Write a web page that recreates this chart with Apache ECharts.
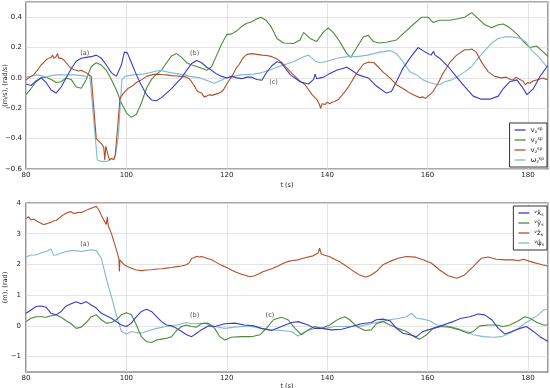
<!DOCTYPE html>
<html><head><meta charset="utf-8">
<script src="https://cdn.jsdelivr.net/npm/echarts@6/dist/echarts.min.js"></script>
<style>html,body{margin:0;padding:0;background:#fff}#c{width:550px;height:388px}</style>
</head><body><div id="c"></div>
<script>
// ---- top panel: set-point velocities (t in s, value in m/s or rad/s)
const vx_sp = [[80,-0.04],[81,-0.05],[82,-0.02],[83,0],[84,-0.03],[85,-0.08],[86,-0.1],[87,-0.06],[88,0],[89,0.06],[90,0.11],[91,0.13],[92,0.135],[93,0.14],[94,0.15],[95,0.13],[96,0.085],[97,0.035],[98,0.01],[99,0.085],[99.6,0.17],[100.2,0.165],[101,0.1],[102,0.02],[103,-0.05],[104,-0.11],[105,-0.145],[106,-0.15],[107,-0.13],[108,-0.1],[109,-0.07],[110,-0.035],[111,0],[112,0.05],[113,0.095],[114,0.115],[115,0.1],[116,0.07],[117,0.05],[118,0.025],[119,0.01],[120,0],[121,0.01],[122,0],[123,-0.005],[124,0.005],[125,0.005],[126,-0.01],[127,-0.015],[128,0.04],[129,0.08],[130,0.107],[130.8,0.1],[132.7,0.02],[134.6,-0.025],[136.3,-0.04],[137.3,-0.01],[137.6,0.025],[137.9,-0.005],[139.3,0.005],[140.3,0.025],[141.9,0.05],[143.9,0.07],[144.9,0.05],[146.2,0.02],[148.2,0],[149.5,-0.045],[150.5,-0.07],[151.8,-0.1],[152.8,-0.09],[153.8,-0.025],[155.1,0.063],[156.5,0.13],[158.1,0.2],[159.4,0.173],[160.7,0.15],[161.2,0.175],[161.5,0.15],[162.4,0.13],[164.1,0.075],[165.8,0.005],[167.4,-0.057],[169.1,-0.12],[170.7,-0.14],[172.4,-0.14],[174.1,-0.12],[175.1,-0.07],[176.4,-0.025],[177.8,-0.013],[178.8,-0.057],[179.8,-0.11],[181.1,-0.07],[182.4,0.01],[183.8,0.075],[184,0.08]];
const vy_sp = [[80,-0.11],[81,-0.07],[82,-0.025],[83,0],[84,0.005],[85,-0.01],[86,-0.03],[87,-0.025],[88,0],[89,-0.01],[90,-0.06],[91,-0.068],[92,-0.01],[93,0.075],[94,0.1],[95,0.085],[96,0.05],[97,-0.01],[98,-0.08],[99,-0.165],[100,-0.23],[101,-0.26],[102,-0.24],[103,-0.165],[104,-0.068],[105,-0.01],[106,0.025],[107,0.05],[108,0.1],[109,0.145],[110,0.16],[111,0.135],[112,0.1],[113,0.085],[114,0.075],[115,0.063],[116,0.05],[117,0.075],[118,0.15],[119,0.225],[120,0.285],[121,0.29],[122,0.31],[123,0.34],[124,0.36],[125,0.37],[126,0.39],[126.8,0.4],[127.8,0.38],[128.8,0.34],[130,0.26],[131.3,0.23],[133.3,0.227],[134.6,0.25],[135.3,0.3],[136.6,0.26],[137.9,0.24],[139.2,0.3],[140.2,0.33],[141.2,0.3],[142.5,0.24],[143.9,0.16],[144.7,0.135],[145.9,0.2],[147.2,0.27],[148.2,0.28],[149.2,0.24],[150.3,0.23],[151.8,0.235],[153.8,0.25],[155.1,0.29],[157.1,0.35],[158.8,0.4],[160.1,0.4],[161.1,0.365],[162.4,0.38],[164.4,0.38],[166.1,0.39],[167.4,0.4],[168.8,0.43],[170.1,0.39],[171.4,0.35],[172.8,0.33],[174.1,0.35],[175.1,0.355],[176.4,0.33],[177.8,0.29],[179.1,0.24],[180.4,0.2],[181.7,0.21],[183.1,0.17],[184,0.14]];
const vz_sp = [[80,-0.015],[80.5,0],[81,0.01],[81.5,0.02],[82,0.04],[82.5,0.06],[83,0.085],[83.5,0.1],[84,0.118],[84.5,0.13],[85,0.135],[85.3,0.15],[85.5,0.13],[86,0.14],[86.3,0.16],[86.5,0.13],[87,0.13],[87.5,0.12],[88,0.1],[88.5,0.08],[89,0.063],[89.5,0.055],[90,0.05],[90.5,0.045],[91,0.05],[91.5,0.04],[92,0.035],[92.5,0.02],[93,0.01],[93.3,0.015],[94,-0.4],[94.6,-0.42],[95.2,-0.44],[95.5,-0.46],[95.7,-0.54],[95.9,-0.45],[96.3,-0.5],[96.6,-0.54],[97,-0.53],[97.5,-0.54],[97.8,-0.5],[98.4,-0.27],[98.7,-0.14],[99,-0.12],[99.7,-0.09],[100.3,-0.07],[101,-0.057],[102,-0.03],[103,-0.013],[104,0.01],[105,0.02],[106,0.025],[107,0.022],[108,0.02],[109,0.015],[110,0.013],[111,0.01],[112,0.005],[112.5,-0.005],[113,-0.025],[113.5,-0.05],[114,-0.08],[114.5,-0.095],[115,-0.1],[115.5,-0.125],[116,-0.12],[116.5,-0.11],[117,-0.115],[117.5,-0.11],[118,-0.105],[118.5,-0.1],[119,-0.09],[119.5,-0.07],[120,-0.04],[120.5,-0.015],[121,0.01],[121.5,0.04],[122,0.07],[122.5,0.09],[123,0.12],[123.5,0.14],[124,0.155],[125,0.16],[126,0.155],[127,0.15],[128,0.148],[129,0.14],[130,0.125],[131,0.1],[131.7,0.075],[133,0.03],[134.3,-0.013],[135.6,-0.045],[137,-0.11],[138,-0.145],[138.4,-0.17],[138.7,-0.2],[139,-0.17],[139.6,-0.175],[140,-0.16],[140.5,-0.17],[141,-0.16],[141.5,-0.155],[142.3,-0.14],[143.3,-0.1],[144.3,-0.057],[145.3,0],[146.3,0.05],[147.2,0.09],[148.3,0.105],[149.3,0.1],[149.8,0.085],[151.1,0.04],[152.5,0],[153.8,-0.045],[155.1,-0.07],[156.5,-0.1],[157.8,-0.12],[158.5,-0.13],[159.1,-0.125],[159.6,-0.135],[160.1,-0.12],[161.1,-0.09],[162.1,-0.035],[163.1,0.03],[164.4,0.1],[165.8,0.15],[167.4,0.185],[168.3,0.185],[168.8,0.19],[169.7,0.17],[170.7,0.107],[172.1,0.04],[173.4,0.01],[174.7,0],[175.7,0.005],[176.5,-0.01],[177.1,-0.013],[177.6,0.005],[178.4,-0.01],[179,-0.02],[179.5,-0.045],[180,-0.03],[180.4,-0.035],[181,-0.02],[181.8,-0.013],[182.5,-0.005],[183.1,0],[183.6,-0.01],[184,-0.005]];
const wz_sp = [[80,0.005],[81,0.01],[82,0.02],[83,0.015],[84,0.005],[85,0.015],[86,0.02],[87,0.02],[88,0.02],[89,0.02],[90,0.02],[91,0.015],[92,0.01],[92.7,0.02],[94.2,-0.54],[95,-0.55],[96,-0.55],[96.8,-0.54],[97.8,-0.52],[98.4,-0.38],[99.1,-0.013],[99.7,0.01],[101.4,0.02],[103.4,0.025],[105.4,0.04],[106.7,0.05],[108.7,0.035],[110.7,0.025],[112.7,0.01],[114.7,0],[116.7,-0.025],[117.5,-0.035],[118.5,-0.02],[120,0],[122.7,0.02],[125.4,0.025],[127,0.035],[128.5,0.05],[130,0.07],[131.3,0.085],[133.3,0.107],[135.3,0.14],[136.3,0.15],[137.6,0.11],[138.6,0.1],[140,0.11],[142,0.13],[144,0.14],[146,0.14],[148,0.15],[149.3,0.16],[150.5,0.17],[152.5,0.18],[153.8,0.16],[155.1,0.107],[156.5,0.04],[157.8,0.02],[159.1,-0.013],[160.4,-0.03],[161.4,-0.04],[162.4,-0.045],[163.4,-0.025],[164.8,-0.013],[166.1,0.01],[167.4,0.04],[168.8,0.075],[170.1,0.13],[171.4,0.18],[172.8,0.23],[174.1,0.26],[175.5,0.27],[176.8,0.27],[178.1,0.265],[179.5,0.24],[180.8,0.18],[182.1,0.14],[183.1,0.1],[184,0.065]];

// ---- bottom panel: estimated pose (t in s, value in m or rad)
const x_s = [[80,0.41],[81,0.52],[82,0.63],[83,0.65],[84,0.61],[85,0.41],[86,0.36],[87,0.47],[88,0.65],[89,0.72],[90,0.79],[91,0.72],[92,0.79],[93,0.68],[94,0.58],[95,0.41],[96,0.33],[97,0.25],[98,0.14],[99,0.03],[100,-0.02],[101,0.09],[102,0.3],[103,0.47],[104,0.54],[105,0.47],[106,0.3],[107,0.14],[108,0.03],[109,0],[110,-0.08],[111,-0.18],[112,-0.29],[113,-0.35],[114,-0.24],[114.9,-0.13],[116.3,0],[117.6,-0.02],[119.6,0.07],[121.6,0.09],[123.5,0.03],[125.5,0],[126.9,-0.08],[128.9,-0.15],[130.9,-0.02],[132.9,0.11],[134.2,0.14],[136.2,0.03],[137.5,-0.08],[138.9,-0.08],[140.9,-0.13],[142.9,-0.11],[144.9,-0.02],[146.8,0.07],[148.8,0.11],[149.8,0.2],[151.1,0.22],[152.5,0.17],[153.8,-0.08],[155.1,-0.24],[156.5,-0.29],[157.8,-0.35],[159.1,-0.18],[161.1,-0.08],[163.1,0.03],[165.1,0.14],[166.7,0.25],[168.4,0.3],[170.1,0.39],[171.4,0.36],[172.8,0.2],[174.1,-0.08],[175.4,-0.26],[176.8,-0.18],[178.4,-0.08],[179.7,-0.02],[181.1,-0.18],[182.4,-0.35],[184,-0.51]];
const y_s = [[80,0.14],[81,0.25],[82,0.3],[83,0.3],[84,0.28],[85,0.33],[86,0.36],[87,0.28],[88,0.17],[89,0.07],[90,-0.08],[91,-0.04],[92,0.11],[93,0.3],[94,0.36],[95,0.2],[96,0.09],[97,0.11],[98,0.2],[99,0.36],[100,0.43],[101,0.36],[102,0.03],[103,-0.35],[104,-0.51],[105,-0.54],[106,-0.46],[107,-0.43],[108,-0.4],[109,-0.35],[110,-0.15],[111,-0.02],[112,0.03],[113,-0.02],[114,-0.04],[114.9,0.07],[116.3,0.09],[117.6,-0.08],[118.6,-0.35],[119.6,-0.46],[120.9,-0.37],[122.9,-0.35],[124.9,-0.35],[126.6,-0.29],[127.9,-0.08],[129.3,0.2],[130.9,0.28],[132.2,0.2],[133.6,-0.08],[134.9,-0.29],[136.2,-0.13],[137.5,-0.02],[138.9,-0.08],[140.5,0.03],[142.2,0.22],[143.5,0.3],[144.5,0.2],[145.9,-0.02],[147.5,-0.15],[148.8,-0.13],[149.8,0.07],[151.1,0.14],[152.5,0.03],[154.1,-0.08],[155.8,-0.18],[157.5,-0.37],[158.5,-0.43],[159.8,-0.29],[161.1,-0.08],[162.8,-0.02],[164.4,-0.04],[166.4,-0.13],[168.1,-0.24],[169.1,-0.18],[170.4,0],[172.1,0.03],[173.7,0.03],[175.1,-0.02],[176.4,0.03],[178.1,0.17],[179.4,0.3],[180.4,0.25],[181.8,0.11],[183.1,0.03],[184,0.03]];
const z_s = [[80,3.5],[80.5,3.55],[81,3.45],[81.5,3.48],[82,3.43],[82.5,3.38],[83,3.34],[83.5,3.3],[84,3.32],[84.5,3.35],[85,3.37],[85.5,3.42],[86,3.43],[86.5,3.5],[87,3.56],[87.5,3.62],[88,3.67],[88.5,3.7],[89,3.72],[89.5,3.66],[90,3.67],[90.5,3.7],[91,3.69],[91.5,3.72],[92,3.76],[92.5,3.8],[93,3.83],[93.5,3.86],[94,3.89],[94.5,3.78],[95,3.6],[95.5,3.45],[96,3.3],[96.2,3.55],[96.4,3.25],[97,3.02],[97.5,2.75],[98,2.48],[98.5,2.2],[98.6,1.77],[98.7,2.15],[99,2.1],[99.5,2.0],[100,1.95],[101,1.88],[102,1.82],[103,1.8],[104,1.82],[105,1.83],[106,1.85],[107,1.86],[108,1.88],[109,1.9],[110,1.93],[111,1.95],[112,1.99],[112.5,2.05],[113,2.2],[113.5,2.22],[114,2.27],[114.5,2.24],[115,2.26],[116,2.2],[117,2.15],[118,2.06],[119,1.97],[120,1.9],[121,1.81],[122,1.74],[123,1.68],[124,1.63],[124.6,1.6],[125.5,1.63],[126.3,1.69],[127.2,1.76],[128.2,1.82],[129.2,1.88],[130.2,1.95],[131.2,2.03],[132.2,2.1],[133.2,2.13],[134.2,2.15],[135.2,2.2],[136.2,2.24],[137.2,2.28],[138.2,2.37],[138.5,2.53],[138.8,2.35],[139.5,2.3],[140.4,2.26],[141.4,2.18],[142.4,2.1],[143.4,1.99],[144.4,1.88],[145.4,1.76],[146.4,1.66],[147.7,1.59],[148.5,1.63],[149.8,1.77],[151.1,1.99],[152.5,2.1],[154.1,2.2],[155.8,2.26],[157.5,2.24],[159.1,2.15],[160.8,2.04],[162.4,1.82],[164.1,1.63],[165.8,1.55],[167.4,1.66],[169.1,1.93],[170.7,2.2],[172.1,2.24],[173.7,2.17],[175.4,2.15],[177.1,2.15],[178.2,2.12],[179.1,2.17],[180.4,2.1],[181.2,2.06],[182.1,2.02],[183,1.98],[184,1.95]];
const psi_s = [[80,2.24],[81,2.31],[82,2.31],[83,2.37],[84,2.42],[85,2.5],[85.5,2.3],[86,2.31],[87,2.37],[88,2.42],[89,2.45],[90,2.45],[91,2.42],[92,2.45],[93,2.48],[94,2.45],[95,2.2],[96,1.55],[97,0.96],[98,0.36],[99,-0.18],[100,-0.26],[101,-0.18],[102,-0.22],[103,-0.24],[104,-0.18],[105,-0.13],[106,-0.08],[107,-0.05],[108,-0.02],[109,0],[110,0.03],[111,0.07],[112,0.11],[113,0.07],[114,0.07],[115.6,0.09],[117.6,-0.02],[119.6,-0.08],[121.6,-0.04],[124.3,0],[126.9,-0.08],[128.9,-0.13],[130.9,-0.15],[132.9,-0.18],[134.2,-0.33],[135.6,-0.18],[137.5,-0.08],[139.5,-0.08],[141.5,-0.02],[144.1,-0.02],[146.8,0],[148.8,0.07],[150.5,0.14],[152.5,0.2],[154.5,0.25],[155.8,0.3],[156.8,0.41],[157.8,0.25],[159.1,0.22],[160.4,0.17],[161.8,0.03],[163.8,0],[165.8,-0.08],[167.8,-0.18],[169.1,-0.29],[171.1,-0.35],[173.1,-0.37],[174.7,-0.35],[176.4,-0.24],[178.1,-0.08],[179.4,0.09],[180.8,0.22],[182.1,0.36],[183.1,0.52],[184,0.54]];

// annotations [t, value, text]
const notesTop = [[91.7,0.165,'(a)'],[113.6,0.165,'(b)'],[129.3,-0.03,'(c)']];
const notesBottom = [[91.7,2.65,'(a)'],[113.6,0.35,'(b)'],[128.6,0.35,'(c)']];

const xTicks = [80,100,120,140,160,180];
const topTicks = [-0.6,-0.4,-0.2,0.0,0.2,0.4];
const bottomTicks = [-1,0,1,2,3,4];

const C = {b:'#3b3bc9', g:'#4d8a3a', r:'#b0502a', c:'#84b9cf'};
const FONT = 'DejaVu Sans';
const minus = s => s.replace('-', '\u2212');

const chart = echarts.init(document.getElementById('c'), null, {renderer:'canvas'});

function xAxis(gi, gap){
  return {type:'value', gridIndex:gi, min:80, max:184, interval:20,
    name:'t (s)', nameLocation:'middle', nameGap:gap, nameMoveOverlap:false,
    nameTextStyle:{fontFamily:FONT, fontSize:6.5, color:'#222'},
    axisLine:{show:false}, axisTick:{show:false},
    axisLabel:{fontFamily:FONT, fontSize:7, color:'#222', margin:3,
      formatter:v => xTicks.includes(v) ? String(v) : ''},
    splitLine:{show:true, lineStyle:{color:'#dcdcdc', width:0.8}}};
}

const legendRich = {
  m:{fontFamily:FONT, fontSize:7, color:'#222', lineHeight:10},
  s:{fontFamily:FONT, fontSize:4.5, color:'#222', lineHeight:10, verticalAlign:'bottom', padding:[0,0,1,0]},
  p:{fontFamily:FONT, fontSize:4.5, color:'#222', lineHeight:10, verticalAlign:'top', padding:[1,0,0,0]}
};
const legendLabels = {
  'vx':'{m|v}{s|x}{p|sp}', 'vy':'{m|v}{s|y}{p|sp}', 'vz':'{m|v}{s|z}{p|sp}', 'wz':'{m|\u03c9}{s|z}{p|sp}',
  'xs':'{p|v}{m|x\u0302}{s|s}', 'ys':'{p|v}{m|y\u0302}{s|s}', 'zs':'{p|v}{m|z\u0302}{s|s}', 'ps':'{p|v}{m|\u03c8\u0302}{s|s}'
};

function line(name, data, color, gi){
  return {name, type:'line', xAxisIndex:gi, yAxisIndex:gi, data, showSymbol:false, symbol:'none',
    lineStyle:{color, width:1.1}, itemStyle:{color}, animation:false, silent:true};
}
function notes(data, gi){
  return {type:'scatter', xAxisIndex:gi, yAxisIndex:gi, symbolSize:0, silent:true, animation:false,
    data:data.map(d => ({value:[d[0], d[1]], label:{formatter:d[2]}})),
    label:{show:true, position:'inside', fontFamily:FONT, fontSize:6.5, color:'#222'}};
}
function legend(names, top){
  return {data:names, orient:'vertical', right:3, top, icon:'rect', itemWidth:11, itemHeight:1.3, itemGap:0,
    padding:[2,3,2,5], borderColor:'#333', borderWidth:1, backgroundColor:'#fff',
    formatter:n => legendLabels[n], textStyle:{rich:legendRich}, selectedMode:false};
}

chart.setOption({
  backgroundColor:'#fff',
  animation:false,
  grid:[
    {left:26, right:2, top:2, height:167, containLabel:false, outerBoundsMode:'none', show:true, borderColor:'#555', borderWidth:1.2, backgroundColor:'transparent'},
    {left:26, right:2, top:203, height:169, containLabel:false, outerBoundsMode:'none', show:true, borderColor:'#555', borderWidth:1.2, backgroundColor:'transparent'}
  ],
  xAxis:[xAxis(0, 13), xAxis(1, 11)],
  yAxis:[
    {type:'value', gridIndex:0, min:-0.6, max:0.5, interval:0.2,
      name:'(m/s), (rad/s)', nameLocation:'middle', nameGap:17, nameMoveOverlap:false,
      nameTextStyle:{fontFamily:FONT, fontSize:6.5, color:'#222'},
      axisLine:{show:false}, axisTick:{show:false},
      axisLabel:{fontFamily:FONT, fontSize:7, color:'#222', margin:4,
        formatter:v => topTicks.some(t => Math.abs(t - v) < 1e-6) ? minus(v.toFixed(1)) : ''},
      splitLine:{show:true, lineStyle:{color:'#dcdcdc', width:0.8}}},
    {type:'value', gridIndex:1, min:-1.5, max:4, interval:0.5,
      name:'(m), (rad)', nameLocation:'middle', nameGap:17, nameMoveOverlap:false,
      nameTextStyle:{fontFamily:FONT, fontSize:6.5, color:'#222'},
      axisLine:{show:false}, axisTick:{show:false},
      axisLabel:{fontFamily:FONT, fontSize:7, color:'#222', margin:5,
        formatter:v => bottomTicks.some(t => Math.abs(t - v) < 1e-6) ? minus(String(Math.round(v))) : ''},
      splitLine:{show:true, lineStyle:{color:['transparent','#dcdcdc'], width:0.8}}}
  ],
  legend:[legend(['vx','vy','vz','wz'], 123), legend(['xs','ys','zs','ps'], 206)],
  series:[
    line('vy', vy_sp, C.g, 0),
    line('wz', wz_sp, C.c, 0),
    line('vz', vz_sp, C.r, 0),
    line('vx', vx_sp, C.b, 0),
    notes(notesTop, 0),
    line('zs', z_s, C.r, 1),
    line('ps', psi_s, C.c, 1),
    line('ys', y_s, C.g, 1),
    line('xs', x_s, C.b, 1),
    notes(notesBottom, 1)
  ]
});
</script></body></html>
